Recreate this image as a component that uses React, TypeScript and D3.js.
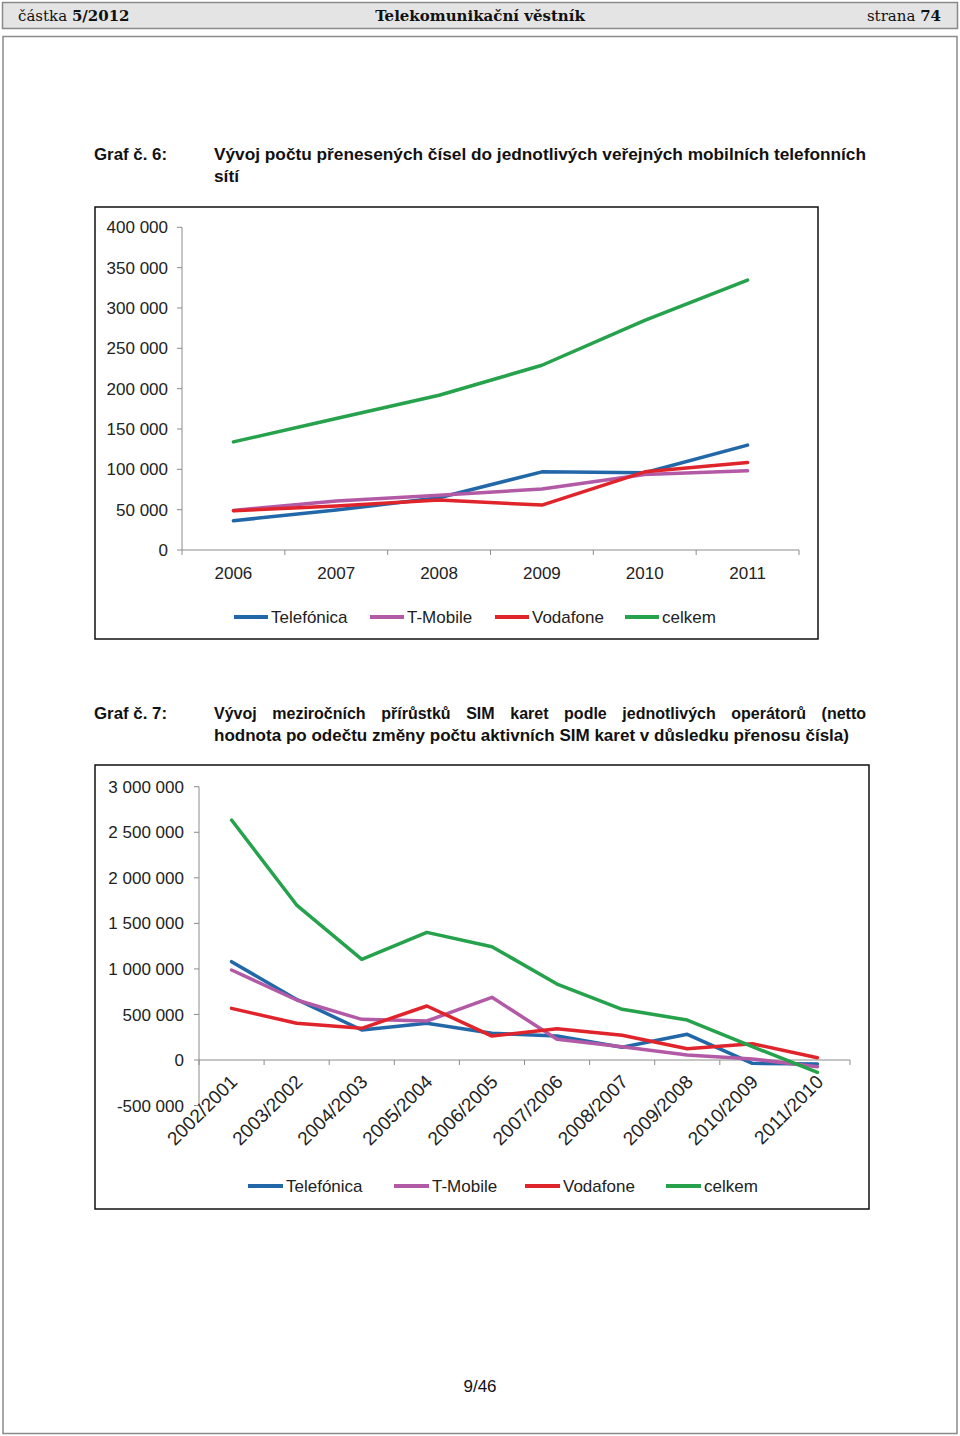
import React, { useLayoutEffect, useRef, useState } from "react";
import * as d3 from "d3";

const years = ["2006", "2007", "2008", "2009", "2010", "2011"];
const telefonica1 = [36300, 49500, 64700, 96900, 95700, 130000];
const tmobile1 = [49100, 60600, 68000, 75500, 93700, 98100];
const vodafone1 = [48700, 54400, 61900, 55700, 96900, 108500];
const celkem1 = [134000, 163000, 191800, 229000, 284600, 334500];
const yTicks1 = [0, 50000, 100000, 150000, 200000, 250000, 300000, 350000, 400000];

const periods = ["2002/2001", "2003/2002", "2004/2003", "2005/2004", "2006/2005", "2007/2006", "2008/2007", "2009/2008", "2010/2009", "2011/2010"];
const telefonica2 = [1079000, 665000, 329000, 403000, 293000, 263000, 139000, 282000, -37000, -44000];
const tmobile2 = [988000, 659000, 446000, 428000, 688000, 227000, 146000, 55000, 11000, -73000];
const vodafone2 = [567000, 403000, 348000, 593000, 263000, 344000, 271000, 124000, 179000, 25000];
const celkem2 = [2634000, 1701000, 1105000, 1401000, 1244000, 834000, 556000, 439000, 146000, -135000];
const yTicks2 = [-500000, 0, 500000, 1000000, 1500000, 2000000, 2500000, 3000000];

const seriesNames = ["Telefónica", "T-Mobile", "Vodafone", "celkem"];
const colors = ["#2268a8", "#b35aa6", "#e0242b", "#25a24b"];

const fmt = (v: number) => {
  const s = Math.abs(v).toString().replace(/\B(?=(\d{3})+(?!\d))/g, " ");
  return (v < 0 ? "-" : "") + s;
};

const AX = "#8c8c8c";
const FONT = "'Liberation Sans', Arial, sans-serif";

function JustifiedText({ x, y, width, children }: { x: number; y: number; width: number; children: string }) {
  const ref = useRef<SVGTextElement>(null);
  const [ws, setWs] = useState(0);
  useLayoutEffect(() => {
    const el = ref.current;
    if (!el) return;
    const gaps = children.split(" ").length - 1;
    const natural = el.getComputedTextLength() - ws * gaps;
    if (gaps > 0) setWs((width - natural) / gaps);
  }, []);
  return (
    <text ref={ref} x={x} y={y} fontFamily={FONT} fontSize={16} fontWeight="bold" fill="#111" style={{ wordSpacing: `${ws}px` }}>
      {children}
    </text>
  );
}

function Chart1() {
  const x0 = 182, x1 = 799;
  const x = d3.scaleBand().domain(years).range([x0, x1]);
  const y = d3.scaleLinear().domain([0, 400000]).range([550, 227.3]);
  const line = d3.line<number>().x((_, i) => (x(years[i]) as number) + x.bandwidth() / 2).y((d) => y(d));
  const data = [telefonica1, tmobile1, vodafone1, celkem1];
  const legendX = [234, 370, 495, 625];
  return (
    <g>
      <rect x={95} y={207} width={723} height={432} fill="#fff" stroke="#111" strokeWidth={1.5} />
      <line x1={x0} x2={x0} y1={y(400000)} y2={y(0)} stroke={AX} />
      {yTicks1.map((t) => (
        <g key={t}>
          <line x1={x0 - 5} x2={x0} y1={y(t)} y2={y(t)} stroke={AX} />
          <text x={168} y={y(t)} dy="0.36em" textAnchor="end" fontSize={17} fontFamily={FONT} fill="#222">{fmt(t)}</text>
        </g>
      ))}
      <line x1={x0} x2={x1} y1={y(0)} y2={y(0)} stroke={AX} />
      {[...years.map((yr) => x(yr) as number), x1].map((p, i) => (
        <line key={i} x1={p} x2={p} y1={y(0)} y2={y(0) + 5} stroke={AX} />
      ))}
      {years.map((yr) => (
        <text key={yr} x={(x(yr) as number) + x.bandwidth() / 2} y={579} textAnchor="middle" fontSize={17} fontFamily={FONT} fill="#222">{yr}</text>
      ))}
      {data.map((d, i) => (
        <path key={i} d={line(d) as string} fill="none" stroke={colors[i]} strokeWidth={3.5} strokeLinejoin="round" strokeLinecap="round" />
      ))}
      {seriesNames.map((n, i) => (
        <g key={n}>
          <line x1={legendX[i]} x2={legendX[i] + 34} y1={617} y2={617} stroke={colors[i]} strokeWidth={4} />
          <text x={legendX[i] + 37} y={623} fontSize={17} fontFamily={FONT} fill="#222">{n}</text>
        </g>
      ))}
    </g>
  );
}

function Chart2() {
  const x0 = 199, x1 = 850;
  const x = d3.scaleBand().domain(periods).range([x0, x1]);
  const y = d3.scaleLinear().domain([0, 3000000]).range([1060, 786.7]);
  const line = d3.line<number>().x((_, i) => (x(periods[i]) as number) + x.bandwidth() / 2).y((d) => y(d));
  const data = [telefonica2, tmobile2, vodafone2, celkem2];
  const legendX = [248, 394, 525, 666];
  return (
    <g>
      <rect x={95} y={765} width={774} height={444} fill="#fff" stroke="#111" strokeWidth={1.5} />
      <line x1={x0} x2={x0} y1={y(3000000)} y2={y(-500000)} stroke={AX} />
      {yTicks2.map((t) => (
        <g key={t}>
          <line x1={x0 - 5} x2={x0} y1={y(t)} y2={y(t)} stroke={AX} />
          <text x={184} y={y(t)} dy="0.36em" textAnchor="end" fontSize={17} fontFamily={FONT} fill="#222">{fmt(t)}</text>
        </g>
      ))}
      <line x1={x0} x2={x1} y1={y(0)} y2={y(0)} stroke={AX} />
      {[...periods.map((p) => x(p) as number), x1].map((p, i) => (
        <line key={i} x1={p} x2={p} y1={y(0)} y2={y(0) + 5} stroke={AX} />
      ))}
      {periods.map((p) => {
        const cx = (x(p) as number) + x.bandwidth() / 2 + 7;
        const cy = 1083;
        return (
          <text key={p} x={cx} y={cy} textAnchor="end" fontSize={19} fontFamily={FONT} fill="#222" transform={`rotate(-45 ${cx} ${cy})`}>{p}</text>
        );
      })}
      {data.map((d, i) => (
        <path key={i} d={line(d) as string} fill="none" stroke={colors[i]} strokeWidth={3.5} strokeLinejoin="round" strokeLinecap="round" />
      ))}
      {seriesNames.map((n, i) => (
        <g key={n}>
          <line x1={legendX[i]} x2={legendX[i] + 35} y1={1186} y2={1186} stroke={colors[i]} strokeWidth={4} />
          <text x={legendX[i] + 38} y={1192} fontSize={17} fontFamily={FONT} fill="#222">{n}</text>
        </g>
      ))}
    </g>
  );
}

export default function App() {
  const serif = "'DejaVu Serif', serif";
  const tf = FONT;
  return (
    <svg width={960} height={1436} style={{ position: "absolute", left: 0, top: 0, background: "#fff" }}>
      <rect x={0} y={0} width={960} height={1436} fill="#fff" />
      <rect x={2.5} y={2.5} width={955} height={26} fill="#e4e4e4" stroke="#8a8a8a" strokeWidth={1.5} />
      <text x={18} y={21} fontFamily={serif} fontSize={15} fill="#111">
        částka <tspan fontWeight="bold">5/2012</tspan>
      </text>
      <text x={480} y={21} textAnchor="middle" fontFamily={serif} fontSize={15} fontWeight="bold" fill="#111">Telekomunikační věstník</text>
      <text x={941} y={21} textAnchor="end" fontFamily={serif} fontSize={15} fill="#111">
        strana <tspan fontWeight="bold">74</tspan>
      </text>
      <rect x={3} y={36.5} width={954} height={1397} fill="none" stroke="#8a8a8a" strokeWidth={1.5} />

      <text x={94} y={160} fontFamily={tf} fontSize={16} fontWeight="bold" fill="#111" textLength={73} lengthAdjust="spacingAndGlyphs">Graf č. 6:</text>
      <text x={214} y={160} fontFamily={tf} fontSize={16} fontWeight="bold" fill="#111" textLength={652} lengthAdjust="spacingAndGlyphs">Vývoj počtu přenesených čísel do jednotlivých veřejných mobilních telefonních</text>
      <text x={214} y={182} fontFamily={tf} fontSize={16} fontWeight="bold" fill="#111" textLength={25} lengthAdjust="spacingAndGlyphs">sítí</text>

      <Chart1 />

      <text x={94} y={719} fontFamily={tf} fontSize={16} fontWeight="bold" fill="#111" textLength={73} lengthAdjust="spacingAndGlyphs">Graf č. 7:</text>
      <JustifiedText x={214} y={719} width={652}>Vývoj meziročních přírůstků SIM karet podle jednotlivých operátorů (netto</JustifiedText>
      <text x={214} y={741} fontFamily={tf} fontSize={16} fontWeight="bold" fill="#111" textLength={635} lengthAdjust="spacingAndGlyphs">hodnota po odečtu změny počtu aktivních SIM karet v důsledku přenosu čísla)</text>

      <Chart2 />

      <text x={480} y={1392} textAnchor="middle" fontFamily={tf} fontSize={17} fill="#111">9/46</text>
    </svg>
  );
}
